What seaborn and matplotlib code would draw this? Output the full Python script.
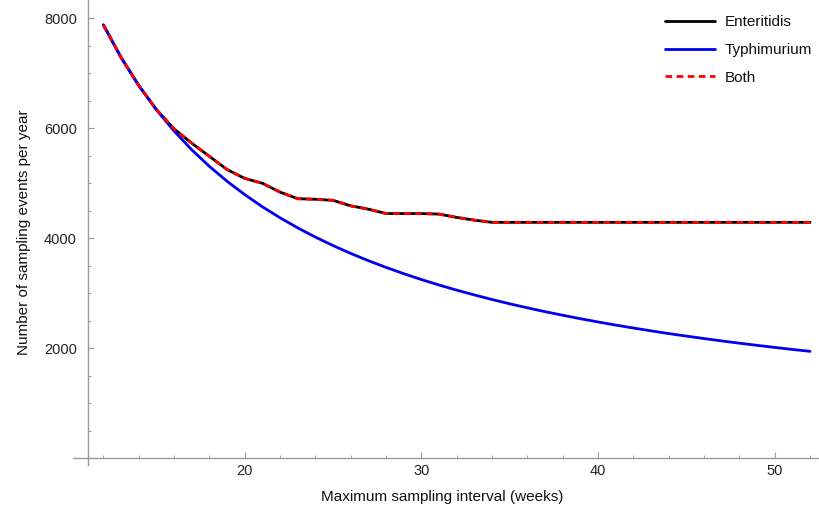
import numpy as np
import pandas as pd
import matplotlib
matplotlib.use("Agg")
import matplotlib.pyplot as plt
from matplotlib.ticker import FixedLocator
import seaborn as sns

# Maximum sampling interval (weeks)
weeks = list(range(12, 53))

# Sampling events per year for Enteritidis
enteritidis = [7880, 7290, 6780, 6340, 5990, 5730, 5490, 5250, 5090, 5000,
               4840, 4720, 4710, 4690, 4590, 4530, 4450, 4450, 4450, 4440,
               4380, 4330, 4290, 4290, 4290, 4290, 4290, 4290, 4290, 4290,
               4290, 4290, 4290, 4290, 4290, 4290, 4290, 4290, 4290, 4290,
               4290]

# Sampling events per year for Typhimurium
typhimurium = [7880, 7286, 6778, 6337, 5951, 5610, 5308, 5037, 4794, 4573,
               4373, 4190, 4022, 3868, 3725, 3593, 3471, 3357, 3250, 3151,
               3057, 2970, 2887, 2809, 2736, 2666, 2601, 2538, 2479, 2422,
               2369, 2317, 2268, 2222, 2177, 2134, 2093, 2054, 2016, 1979,
               1945]

# Sampling events per year when both serovars are targeted
both = list(enteritidis)

df = pd.DataFrame({"weeks": weeks, "Enteritidis": enteritidis,
                   "Typhimurium": typhimurium, "Both": both})

sns.set_theme(style="white")
plt.rcParams["font.family"] = ["Liberation Sans", "DejaVu Sans"]

fig = plt.figure(figsize=(8.19, 5.08), dpi=100)
ax = fig.add_axes([73 / 819, 1 - 465 / 508, (818 - 73) / 819, 465 / 508])

sns.lineplot(data=df, x="weeks", y="Enteritidis", ax=ax, color="black",
             linewidth=2.0, label="Enteritidis")
sns.lineplot(data=df, x="weeks", y="Typhimurium", ax=ax, color="#0000ee",
             linewidth=2.0, label="Typhimurium")
sns.lineplot(data=df, x="weeks", y="Both", ax=ax, color="#ff0000",
             linewidth=2.0, label="Both")
ax.lines[-1].set_linestyle((0, (2.4, 1.6)))

ax.set_xlim(10.28, 52.45)
ax.set_ylim(-122, 8333)

axis_grey = "#9a9a9a"
for side in ["top", "right"]:
    ax.spines[side].set_visible(False)
ax.spines["left"].set_position(("data", 11.13))
ax.spines["bottom"].set_position(("data", 0))
for side in ["left", "bottom"]:
    ax.spines[side].set_color(axis_grey)
    ax.spines[side].set_linewidth(1.0)

ax.xaxis.set_major_locator(FixedLocator([20, 30, 40, 50]))
ax.xaxis.set_minor_locator(FixedLocator([w for w in range(12, 53, 2) if w % 10]))
ax.yaxis.set_major_locator(FixedLocator([2000, 4000, 6000, 8000]))
ax.yaxis.set_minor_locator(FixedLocator([v for v in range(500, 8500, 500) if v % 2000]))

ax.tick_params(axis="both", which="major", direction="in", length=4.5, width=0.8,
               color=axis_grey, labelsize=10.5, labelcolor="#222222")
ax.tick_params(axis="both", which="minor", direction="in", length=2.5, width=0.7,
               color=axis_grey)
ax.tick_params(axis="x", which="major", pad=4)
ax.tick_params(axis="y", which="major", pad=8)
ax.tick_params(left=True, bottom=True, which="both")

ax.set_xlabel("")
ax.set_ylabel("")
fig.text(442 / 819, 1 - 497 / 508, "Maximum sampling interval (weeks)",
         ha="center", va="center", fontsize=11, color="#111111")
fig.text(24 / 819, 1 - 232 / 508, "Number of sampling events per year",
         ha="center", va="center", rotation=90, fontsize=11, color="#111111")

leg = ax.legend(loc="upper right", bbox_to_anchor=(818 / 819, 1 - 9 / 508),
                bbox_transform=fig.transFigure, frameon=False, fontsize=11,
                handlelength=3.3, handletextpad=0.6, labelspacing=0.9,
                borderaxespad=0)
for t in leg.get_texts():
    t.set_color("#111111")

fig.savefig("out.png", dpi=100)
